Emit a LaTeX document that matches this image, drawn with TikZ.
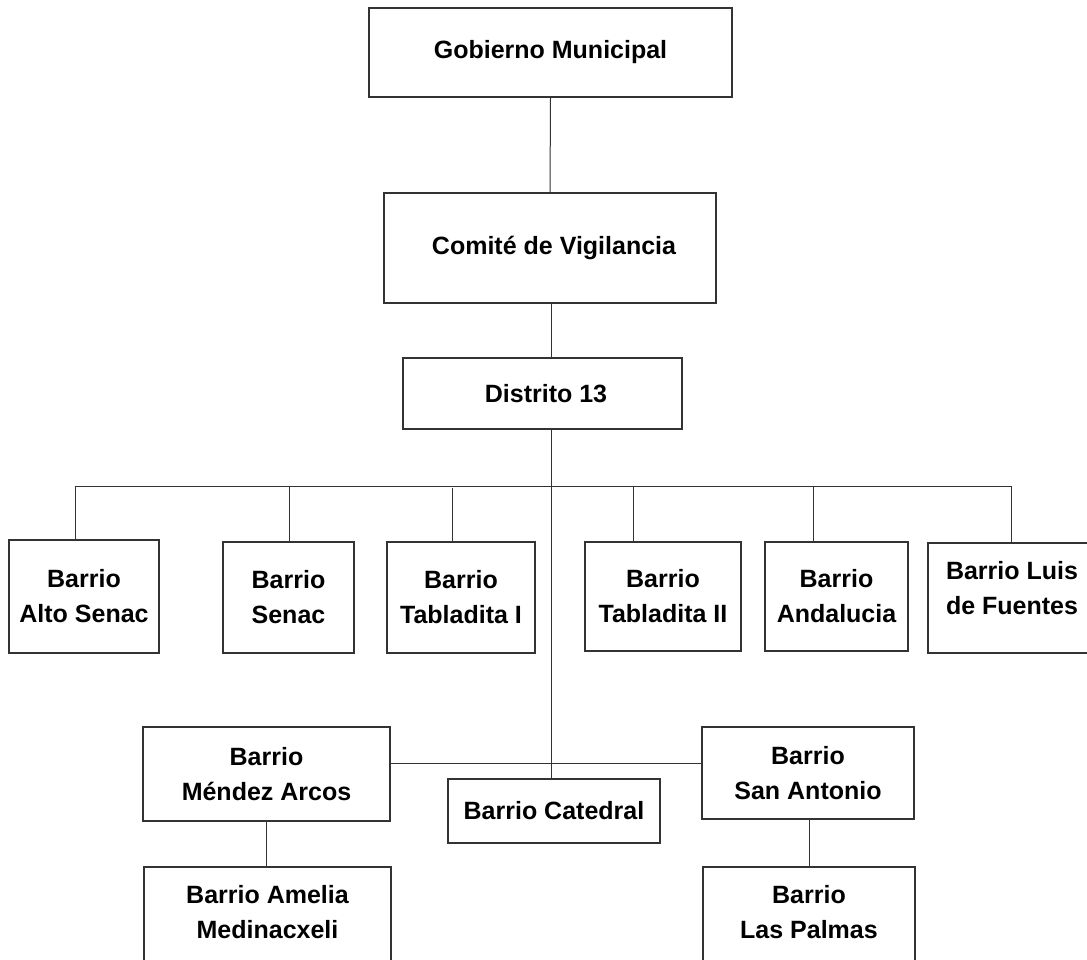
\documentclass[tikz,border=0pt]{standalone}
\usepackage{fontspec}
\setmainfont{Liberation Sans}
\begin{document}
\begin{tikzpicture}[x=1pt,y=-1pt,
  box/.style={draw=black!80, line width=1.2pt, fill=white, inner sep=0pt,
    align=center, font=\bfseries\fontsize{25}{35}\selectfont, anchor=center},
  conn/.style={draw=black!80, line width=1pt}]
\clip (0,0) rectangle (1087,960);
\useasboundingbox (0,0) rectangle (1087,960);
% top chain
\node[box, minimum width=363pt, minimum height=89pt] (gob) at (550.5,52.5) {Gobierno Municipal};
\node[box, minimum width=332pt, minimum height=110pt] (com) at (550,248) {\hspace*{8pt}Comité de Vigilancia};
\node[box, minimum width=279pt, minimum height=71pt] (dis) at (542.5,393.5) {\hspace*{7pt}Distrito 13};
% row of barrios
\node[box, minimum width=150pt, minimum height=113pt] (alto) at (84,596.5) {Barrio\\Alto Senac};
\node[box, minimum width=131pt, minimum height=111pt] (senac) at (288.5,597.5) {Barrio\\Senac};
\node[box, minimum width=148pt, minimum height=111pt] (tab1) at (461,597.5) {Barrio\\Tabladita I};
\node[box, minimum width=156pt, minimum height=109pt] (tab2) at (663,596.5) {Barrio\\Tabladita II};
\node[box, minimum width=143pt, minimum height=109pt] (anda) at (836.5,596.5) {Barrio\\Andalucia};
\node[box, minimum width=168pt, minimum height=110pt] (luis) at (1012,598) {Barrio Luis\\de Fuentes\\[-26pt]\strut};
% lower barrios
\node[box, minimum width=247pt, minimum height=94pt] (mendez) at (266.5,774) {Barrio\\Méndez Arcos};
\node[box, minimum width=212pt, minimum height=92pt] (santo) at (808,773) {Barrio\\San Antonio};
\node[box, minimum width=212pt, minimum height=64pt] (cat) at (554,811) {Barrio Catedral};
\node[box, minimum width=247pt, minimum height=98pt] (amelia) at (267.5,916) {Barrio Amelia\\Medinacxeli\\[-37pt]\strut};
\node[box, minimum width=212pt, minimum height=98pt] (palmas) at (809,916) {Barrio\\Las Palmas\\[-37pt]\strut};
% coordinates
\coordinate (trunk) at (551,486);
\coordinate (dAlto) at (75,486);
\coordinate (dSenac) at (289,486);
\coordinate (dTab1) at (452,488);
\coordinate (dTab2) at (633,486);
\coordinate (dAnda) at (813,486);
\coordinate (dLuis) at (1011,486);
\coordinate (hM) at (551,763);
% connectors
\draw[conn] (gob.south) -- (com.north);
\draw[conn] (com.south -| trunk) -- (dis.north -| trunk);
\draw[conn] (dis.south -| trunk) -- (cat.north -| trunk);
\draw[conn] (dAlto) -- (dLuis);
\draw[conn] (dAlto) -- (dAlto |- alto.north);
\draw[conn] (dSenac) -- (dSenac |- senac.north);
\draw[conn] (dTab1) -- (dTab1 |- tab1.north);
\draw[conn] (dTab2) -- (dTab2 |- tab2.north);
\draw[conn] (dAnda) -- (dAnda |- anda.north);
\draw[conn] (dLuis) -- (dLuis |- luis.north);
\draw[conn] (mendez.east |- hM) -- (santo.west |- hM);
\draw[conn] (mendez.south) -- (mendez.south |- amelia.north);
\draw[conn] (santo.south -| palmas.north) -- (palmas.north);
\end{tikzpicture}
\end{document}
